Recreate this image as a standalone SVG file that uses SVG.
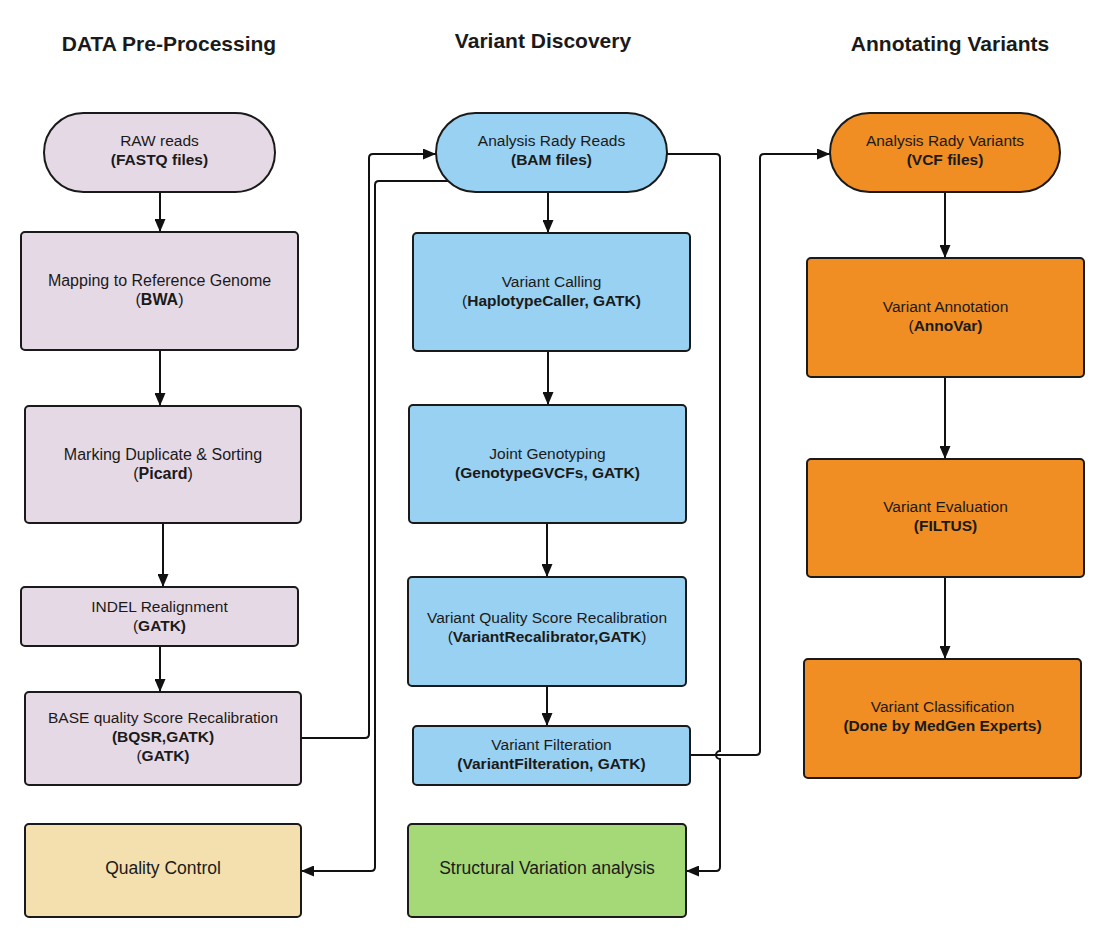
<svg xmlns="http://www.w3.org/2000/svg" width="1113" height="938" viewBox="0 0 1113 938">
<style>
text{font-family:"Liberation Sans",Arial,sans-serif;font-size:15.5px;fill:#1a1a1a;text-anchor:middle}
.t{font-size:21px;font-weight:bold}
.b{font-weight:bold}
.big{font-size:17.5px}
.n{stroke:#1a1a1a;stroke-width:2}
.lav{fill:#e6d9e6}.blue{fill:#99d1f2}.org{fill:#f08d23}.grn{fill:#a5d877}.tan{fill:#f3e0ae}
.c{fill:none;stroke:#111;stroke-width:2}
</style>
<defs>
<marker id="ah" viewBox="0 0 13 11" refX="13" refY="5.5" markerWidth="13" markerHeight="11" markerUnits="userSpaceOnUse" orient="auto"><path d="M0,0 L13,5.5 L0,11 z" fill="#111"/></marker>
</defs>
<rect width="1113" height="938" fill="#fff"/>
<text class="t" x="169" y="51">DATA Pre-Processing</text>
<text class="t" x="543" y="48">Variant Discovery</text>
<text class="t" x="950" y="51">Annotating Variants</text>

<g id="connectors">
<line class="c" x1="160" y1="192" x2="160" y2="232" marker-end="url(#ah)"/>
<line class="c" x1="160" y1="350" x2="160" y2="406" marker-end="url(#ah)"/>
<line class="c" x1="163" y1="523" x2="163" y2="587" marker-end="url(#ah)"/>
<line class="c" x1="160" y1="646" x2="160" y2="692" marker-end="url(#ah)"/>
<line class="c" x1="548" y1="192" x2="548" y2="233" marker-end="url(#ah)"/>
<line class="c" x1="548" y1="351" x2="548" y2="405" marker-end="url(#ah)"/>
<line class="c" x1="547" y1="523" x2="547" y2="577" marker-end="url(#ah)"/>
<line class="c" x1="547" y1="686" x2="547" y2="726" marker-end="url(#ah)"/>
<line class="c" x1="945" y1="192" x2="945" y2="258" marker-end="url(#ah)"/>
<line class="c" x1="945" y1="377" x2="945" y2="459" marker-end="url(#ah)"/>
<line class="c" x1="945" y1="577" x2="945" y2="659" marker-end="url(#ah)"/>
<path class="c" d="M301,738 H365 Q369,738 369,734 V158 Q369,154 373,154 H436" marker-end="url(#ah)"/>
<path class="c" d="M448,181 H379 Q375,181 375,185 V867 Q375,871 371,871 H301" marker-end="url(#ah)"/>
<path class="c" d="M667,154 H716 Q720,154 720,158 V751 A4,4 0 0 0 720,759 V867 Q720,871 716,871 H686" marker-end="url(#ah)"/>
<path class="c" d="M690,755 H756 Q760,755 760,751 V158 Q760,154 764,154 H830" marker-end="url(#ah)"/>
</g>

<g id="raw"><rect class="n lav" x="44" y="113" width="231" height="79" rx="39.5"/>
<text x="159.5" y="146">RAW reads</text><text class="b" x="159.5" y="165">(FASTQ files)</text></g>
<g id="mapping"><rect class="n lav" x="21" y="232" width="277" height="118" rx="4"/>
<text x="159.5" y="286" style="font-size:16px">Mapping to Reference Genome</text><text x="159.5" y="305" style="font-size:16px">(<tspan class="b">BWA</tspan>)</text></g>
<g id="marking"><rect class="n lav" x="25" y="406" width="276" height="117" rx="4"/>
<text x="163" y="460" style="font-size:16px">Marking Duplicate &amp; Sorting</text><text x="163" y="479" style="font-size:16px">(<tspan class="b">Picard</tspan>)</text></g>
<g id="indel"><rect class="n lav" x="21" y="587" width="277" height="59" rx="4"/>
<text x="159.5" y="612">INDEL Realignment</text><text x="159.5" y="631">(<tspan class="b">GATK)</tspan></text></g>
<g id="bqsr"><rect class="n lav" x="25" y="692" width="276" height="93" rx="4"/>
<text x="163" y="723">BASE quality Score Recalibration</text><text class="b" x="163" y="742">(BQSR,GATK)</text><text x="163" y="761">(<tspan class="b">GATK)</tspan></text></g>
<g id="qc"><rect class="n tan" x="25" y="824" width="276" height="93" rx="4"/>
<text class="big" x="163" y="874">Quality Control</text></g>

<g id="reads"><rect class="n blue" x="436" y="113" width="231" height="79" rx="39.5"/>
<text x="551.5" y="146">Analysis Rady Reads</text><text class="b" x="551.5" y="165">(BAM files)</text></g>
<g id="calling"><rect class="n blue" x="413" y="233" width="277" height="118" rx="4"/>
<text x="551.5" y="287">Variant Calling</text><text x="551.5" y="306">(<tspan class="b">HaplotypeCaller, GATK)</tspan></text></g>
<g id="joint"><rect class="n blue" x="409" y="405" width="277" height="118" rx="4"/>
<text x="547.5" y="459">Joint Genotyping</text><text class="b" x="547.5" y="478">(GenotypeGVCFs, GATK)</text></g>
<g id="vqsr"><rect class="n blue" x="408" y="577" width="278" height="109" rx="4"/>
<text x="547" y="623">Variant Quality Score Recalibration</text><text x="547" y="642">(<tspan class="b">VariantRecalibrator,GATK</tspan>)</text></g>
<g id="filter"><rect class="n blue" x="413" y="726" width="277" height="59" rx="4"/>
<text x="551.5" y="750">Variant Filteration</text><text class="b" x="551.5" y="769">(VariantFilteration, GATK)</text></g>
<g id="sv"><rect class="n grn" x="408" y="824" width="278" height="93" rx="4"/>
<text class="big" x="547" y="874">Structural Variation analysis</text></g>

<g id="variants"><rect class="n org" x="830" y="113" width="230" height="79" rx="39.5"/>
<text x="945" y="146">Analysis Rady Variants</text><text class="b" x="945" y="165">(VCF files)</text></g>
<g id="annotation"><rect class="n org" x="807" y="258" width="277" height="119" rx="4"/>
<text x="945.5" y="312">Variant Annotation</text><text x="945.5" y="331">(<tspan class="b">AnnoVar)</tspan></text></g>
<g id="evaluation"><rect class="n org" x="807" y="459" width="277" height="118" rx="4"/>
<text x="945.5" y="512">Variant Evaluation</text><text class="b" x="945.5" y="531">(FILTUS)</text></g>
<g id="classification"><rect class="n org" x="804" y="659" width="277" height="119" rx="4"/>
<text x="942.5" y="712">Variant Classification</text><text class="b" x="942.5" y="731">(Done by MedGen Experts)</text></g>
</svg>
